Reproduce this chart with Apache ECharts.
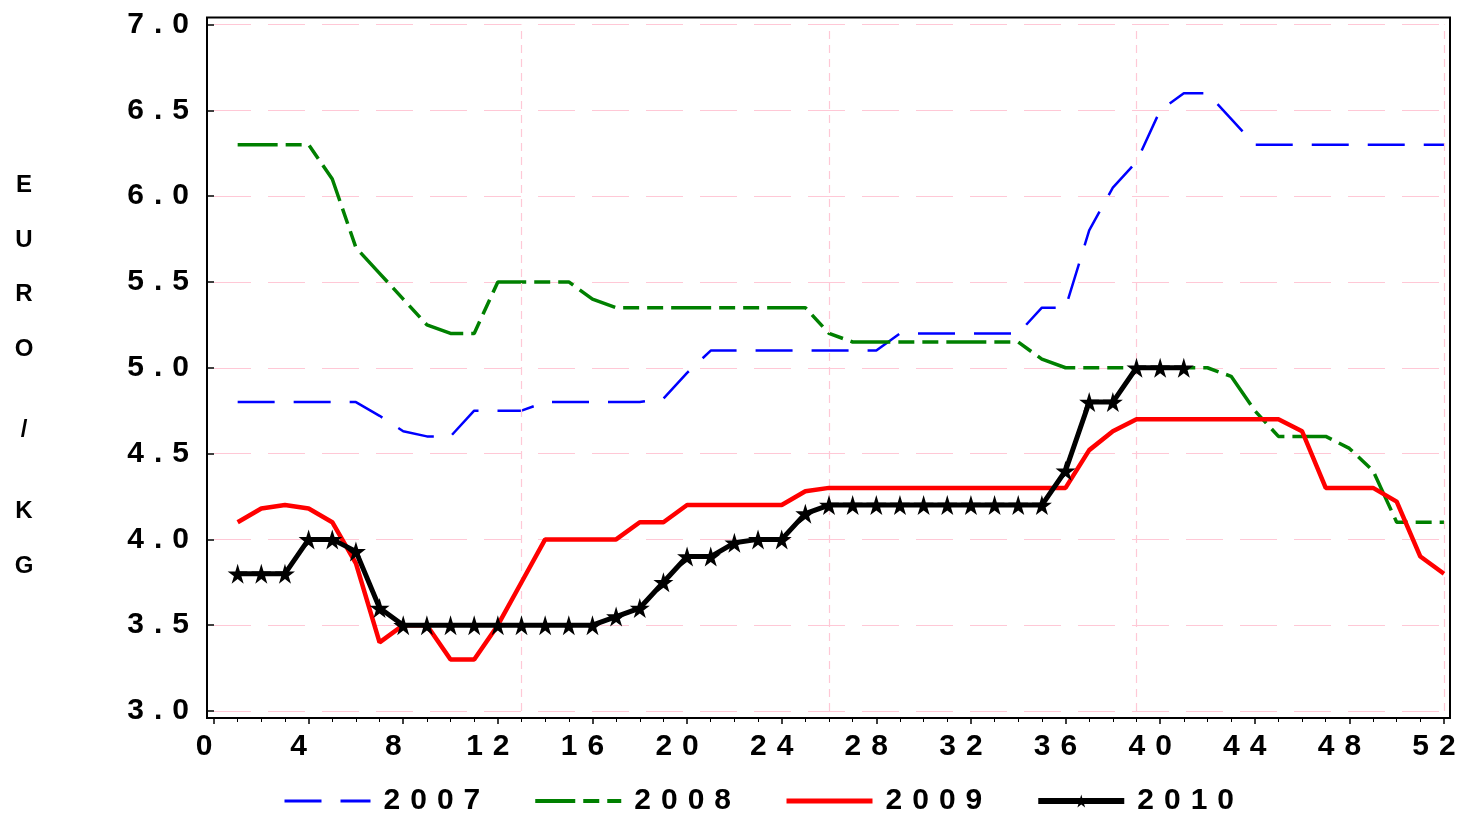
<!DOCTYPE html>
<html>
<head>
<meta charset="utf-8">
<script src="https://cdn.jsdelivr.net/npm/echarts@6/dist/echarts.min.js"></script>
<style>
  html, body { margin: 0; padding: 0; background: #fff; }
  #chart { width: 1461px; height: 816px; }
</style>
</head>
<body>
<div id="chart"></div>
<script>
// week numbers 1..52
const weeks = Array.from({ length: 52 }, (_, i) => i + 1)
const quarterWeeks = [13, 26, 39, 52]

const price2007 = [4.8, 4.8, 4.8, 4.8, 4.8, 4.8, 4.72, 4.63, 4.6, 4.6, 4.75, 4.75, 4.75,
  4.8, 4.8, 4.8, 4.8, 4.8, 4.82, 4.97, 5.1, 5.1, 5.1, 5.1, 5.1, 5.1, 5.1, 5.1,
  5.2, 5.2, 5.2, 5.2, 5.2, 5.2, 5.35, 5.35, 5.8, 6.05, 6.2, 6.5, 6.6, 6.6, 6.45,
  6.3, 6.3, 6.3, 6.3, 6.3, 6.3, 6.3, 6.3, 6.3]
const price2008 = [6.3, 6.3, 6.3, 6.3, 6.1, 5.7, 5.55, 5.4, 5.25, 5.2, 5.2, 5.5, 5.5,
  5.5, 5.5, 5.4, 5.35, 5.35, 5.35, 5.35, 5.35, 5.35, 5.35, 5.35, 5.35, 5.2, 5.15,
  5.15, 5.15, 5.15, 5.15, 5.15, 5.15, 5.15, 5.05, 5.0, 5.0, 5.0, 5.0, 5.0, 5.0,
  5.0, 4.95, 4.75, 4.6, 4.6, 4.6, 4.53, 4.4, 4.1, 4.1, 4.1]
const price2009 = [4.1, 4.18, 4.2, 4.18, 4.1, 3.86, 3.4, 3.5, 3.5, 3.3, 3.3, 3.5, 3.75,
  4.0, 4.0, 4.0, 4.0, 4.1, 4.1, 4.2, 4.2, 4.2, 4.2, 4.2, 4.28, 4.3, 4.3, 4.3, 4.3,
  4.3, 4.3, 4.3, 4.3, 4.3, 4.3, 4.3, 4.52, 4.63, 4.7, 4.7, 4.7, 4.7, 4.7, 4.7, 4.7,
  4.63, 4.3, 4.3, 4.3, 4.22, 3.9, 3.8]
const price2010 = [3.8, 3.8, 3.8, 4.0, 4.0, 3.93, 3.6, 3.5, 3.5, 3.5, 3.5, 3.5, 3.5,
  3.5, 3.5, 3.5, 3.55, 3.6, 3.75, 3.9, 3.9, 3.98, 4.0, 4.0, 4.15, 4.2, 4.2, 4.2,
  4.2, 4.2, 4.2, 4.2, 4.2, 4.2, 4.2, 4.4, 4.8, 4.8, 5.0, 5.0, 5.0]

const starPath = 'path://M50,0 L61,35 L98,35 L68,57 L79,91 L50,70 L21,91 L32,57 L2,35 L39,35 Z'
const pink = '#ffc8d6'
// wide letter spacing like the original labels
const spaced = s => String(s).split('').join('\u2004')

function pairs(values) {
  return values.map((v, i) => [weeks[i], v])
}

const chart = echarts.init(document.getElementById('chart'))

chart.setOption({
  animation: false,
  backgroundColor: '#fff',
  textStyle: { fontFamily: 'Liberation Sans, Arial, sans-serif' },
  grid: {
    left: 214,
    right: 17,
    top: 24.5,
    bottom: 105
  },
  legend: {
    left: 278,
    top: 781,
    itemWidth: 86,
    itemHeight: 16,
    itemGap: 53,
    formatter: name => spaced(name),
    textStyle: {
      fontSize: 30,
      fontWeight: 'bold',
      color: '#000',
      padding: [0, 0, 0, 8]
    },
    data: [
      { name: '2007', itemStyle: { opacity: 0 }, lineStyle: { width: 3 } },
      { name: '2008', itemStyle: { opacity: 0 }, lineStyle: { width: 4 } },
      { name: '2009', itemStyle: { opacity: 0 }, lineStyle: { width: 5 } },
      { name: '2010', lineStyle: { width: 6 } }
    ]
  },
  xAxis: {
    type: 'value',
    min: 0,
    max: 52,
    interval: 4,
    offset: 7,
    axisLine: { show: false },
    axisTick: { length: 6, lineStyle: { color: '#000', width: 1.5 } },
    minorTick: { show: true, splitNumber: 4, length: 4, lineStyle: { color: '#000' } },
    axisLabel: {
      margin: 14,
      fontSize: 30,
      fontWeight: 'bold',
      color: '#000',
      padding: [0, 20, 0, 0],
      formatter: v => spaced(v)
    },
    splitLine: { show: false }
  },
  yAxis: {
    type: 'value',
    min: 3,
    max: 7,
    interval: 0.5,
    offset: 7,
    axisLine: { show: false },
    axisTick: { show: true, length: 8, lineStyle: { color: '#000', width: 1.5 } },
    axisLabel: {
      margin: 18,
      fontSize: 30,
      fontWeight: 'bold',
      color: '#000',
      formatter: v => spaced(v.toFixed(1))
    },
    splitLine: {
      show: true,
      lineStyle: { color: pink, type: [37, 17], width: 1.2 }
    },
    name: '{a|E}\n{a|U}\n{a|R}\n{a|O}\n{b|/}\n{a|K}\n{a|G}',
    nameLocation: 'middle',
    nameRotate: 0,
    nameGap: 172,
    nameTextStyle: {
      padding: [16, 0, 0, 0],
      rich: {
        a: { fontSize: 24, fontWeight: 'bold', color: '#000', lineHeight: 54.5, width: 22, align: 'center' },
        b: { fontSize: 24, fontWeight: 'bold', color: '#000', lineHeight: 108, width: 22, align: 'center' }
      }
    }
  },
  graphic: [{
    type: 'rect',
    silent: true,
    z: 100,
    shape: { x: 207, y: 17.5, width: 1243, height: 700.5 },
    style: { fill: 'none', stroke: '#000', lineWidth: 2 }
  }],
  series: [
    {
      name: '2007',
      type: 'line',
      data: pairs(price2007),
      symbol: 'none',
      color: '#0000ff',
      lineStyle: { color: '#0000ff', width: 2.5, type: [37, 19] },
      markLine: {
        silent: true,
        symbol: 'none',
        label: { show: false },
        lineStyle: { color: pink, type: [8, 6], width: 1.2 },
        data: quarterWeeks.map(w => ({ xAxis: w }))
      },
      z: 3
    },
    {
      name: '2008',
      type: 'line',
      data: pairs(price2008),
      symbol: 'none',
      color: '#008000',
      lineStyle: { color: '#008000', width: 3.5, type: [40, 8, 16, 8, 16, 8] },
      z: 4
    },
    {
      name: '2009',
      type: 'line',
      data: pairs(price2009),
      symbol: 'none',
      color: '#ff0000',
      lineStyle: { color: '#ff0000', width: 4.5 },
      z: 5
    },
    {
      name: '2010',
      type: 'line',
      data: pairs(price2010),
      symbol: starPath,
      symbolSize: 20,
      showAllSymbol: true,
      color: '#000',
      itemStyle: { color: '#000' },
      lineStyle: { color: '#000', width: 5 },
      z: 6
    }
  ]
})
</script>
</body>
</html>
